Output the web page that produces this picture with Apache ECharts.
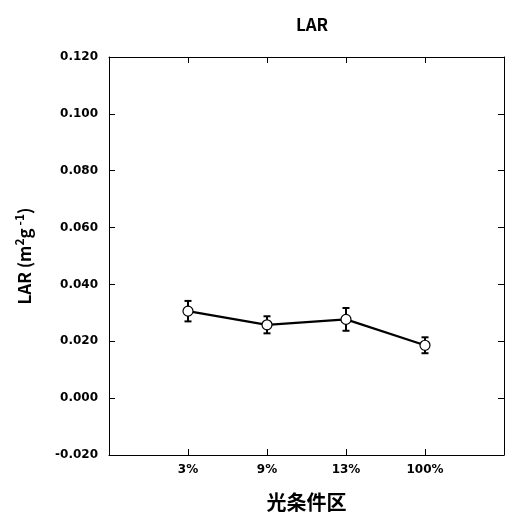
<!DOCTYPE html>
<html><head><meta charset="utf-8">
<script src="https://cdn.jsdelivr.net/npm/echarts@6/dist/echarts.min.js"></script>
<style>html,body{margin:0;padding:0;background:#fff}#c{width:507px;height:518px}</style>
</head><body><div id="c"></div>
<script>
const categories = ['3%', '9%', '13%', '100%'];
const lar = [0.0306, 0.0258, 0.0277, 0.0186];
const larErr = [0.0036, 0.0030, 0.0040, 0.0028];
const yTicks = { min: -0.02, max: 0.12, interval: 0.02 };

const lineData = lar.map((v, i) => [i + 1, v]);
const errData = lar.map((v, i) => [i + 1, v - larErr[i], v + larErr[i]]);
const labelFont = 'DejaVu Sans, sans-serif';
const gothicFont = '"Noto Sans CJK JP", sans-serif';

const frameAxis = { onZero: false, lineStyle: { color: '#000', width: 1 } };
const frameTick = { show: true, inside: true, length: 6, lineStyle: { color: '#000' } };

const chart = echarts.init(document.getElementById('c'));
chart.setOption({
  animation: false,
  title: { text: 'LAR', left: 307, top: 11, textAlign: 'center',
    textStyle: { fontFamily: gothicFont, fontWeight: 'bold', fontSize: 17, color: '#000' } },
  grid: { left: 109, right: 1, top: 57, bottom: 63 },
  xAxis: [{
    type: 'value', min: 0, max: 5, interval: 1,
    axisLine: frameAxis, axisTick: frameTick,
    splitLine: { show: false },
    axisLabel: { margin: 9, fontFamily: labelFont, fontWeight: 'bold', fontSize: 12, color: '#000',
      formatter: v => categories[v - 1] || '' },
    name: '光条件区', nameLocation: 'middle', nameGap: 37,
    nameTextStyle: { fontFamily: gothicFont, fontWeight: 'bold', fontSize: 20, color: '#000' }
  }, {
    type: 'value', min: 0, max: 5, interval: 1, position: 'top',
    axisLine: frameAxis, axisTick: frameTick,
    axisLabel: { show: false }, splitLine: { show: false }
  }],
  yAxis: [{
    type: 'value', min: yTicks.min, max: yTicks.max, interval: yTicks.interval,
    axisLine: Object.assign({ show: true }, frameAxis), axisTick: frameTick,
    splitLine: { show: false },
    axisLabel: { margin: 11, fontFamily: labelFont, fontWeight: 'bold', fontSize: 12, color: '#000',
      formatter: v => v.toFixed(3) },
    name: 'LAR (m{sup|2}g{sup| -1})', nameLocation: 'middle', nameGap: 72, nameRotate: 90,
    nameTextStyle: { fontFamily: gothicFont, fontWeight: 'bold', fontSize: 17, color: '#000',
      rich: { sup: { fontFamily: gothicFont, fontWeight: 'bold', fontSize: 12, color: '#000', verticalAlign: 'top', padding: [0,0,12,0] } } }
  }, {
    type: 'value', min: yTicks.min, max: yTicks.max, interval: yTicks.interval, position: 'right',
    axisLine: Object.assign({ show: true }, frameAxis), axisTick: frameTick,
    axisLabel: { show: false }, splitLine: { show: false }
  }],
  series: [{
    type: 'custom',
    data: errData,
    z: 3,
    renderItem: function (params, api) {
      const x = api.value(0);
      const lo = api.coord([x, api.value(1)]);
      const hi = api.coord([x, api.value(2)]);
      const hw = 3.5;
      const st = { stroke: '#000', lineWidth: 2 };
      return { type: 'group', children: [
        { type: 'line', shape: { x1: lo[0], y1: lo[1], x2: hi[0], y2: hi[1] }, style: st },
        { type: 'line', shape: { x1: lo[0] - hw, y1: lo[1], x2: lo[0] + hw, y2: lo[1] }, style: st },
        { type: 'line', shape: { x1: hi[0] - hw, y1: hi[1], x2: hi[0] + hw, y2: hi[1] }, style: st }
      ] };
    }
  }, {
    type: 'line',
    data: lineData,
    z: 4,
    symbol: 'circle', symbolSize: 10,
    lineStyle: { color: '#000', width: 2.2 },
    itemStyle: { color: '#fff', borderColor: '#000', borderWidth: 1.2 }
  }]
});
</script></body></html>
